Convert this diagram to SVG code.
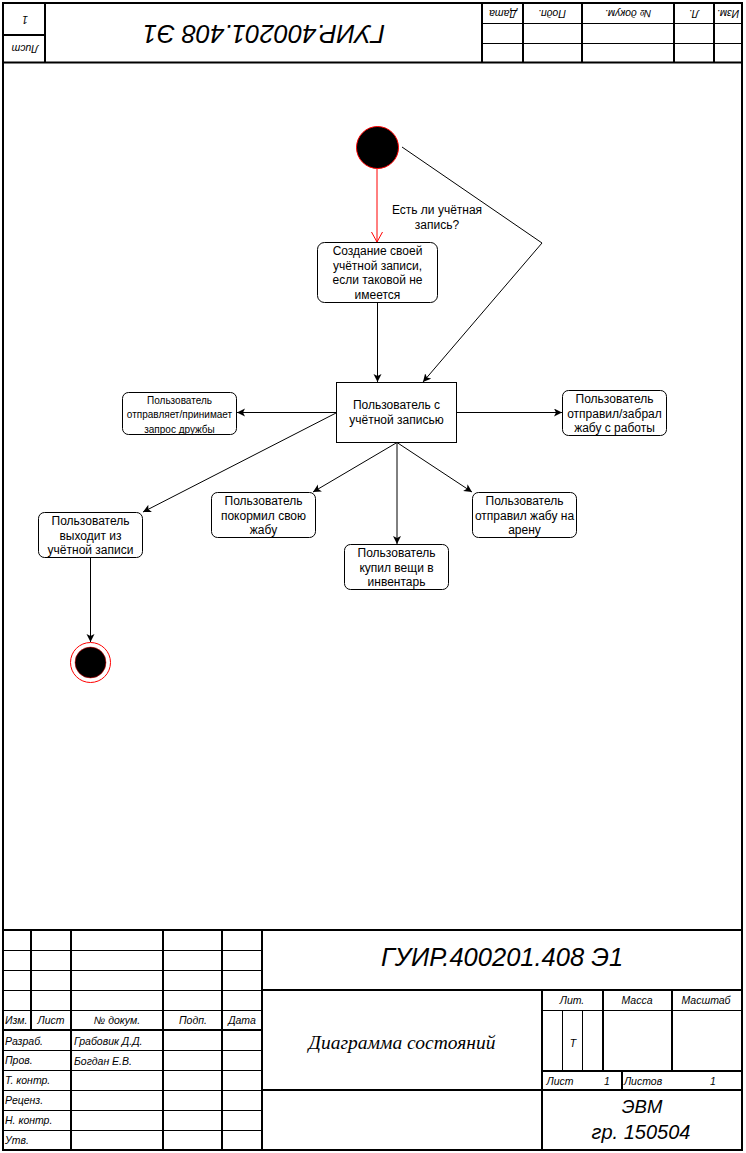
<svg xmlns="http://www.w3.org/2000/svg" width="746" height="1153" viewBox="0 0 746 1153">
<defs>
<style>
.thick{stroke:#000;stroke-width:2;fill:none}
.thin{stroke:#000;stroke-width:1;fill:none}
.lbl{font-family:"Liberation Sans",Arial,sans-serif;font-style:italic;font-size:10.5px;fill:#000}
.nt{font-family:"Liberation Sans",Arial,sans-serif;font-size:12px;text-anchor:middle;fill:#000}
.ns{font-family:"Liberation Sans",Arial,sans-serif;font-size:10px;text-anchor:middle;fill:#000}
.box{fill:#fff;stroke:#000;stroke-width:1}
.edge{stroke:#000;stroke-width:1;fill:none;marker-end:url(#arr)}
.mid{text-anchor:middle}
.big{font-size:25.5px}
</style>
<marker id="arr" markerUnits="userSpaceOnUse" markerWidth="10" markerHeight="10" refX="8" refY="4" orient="auto">
<path d="M0,0 L8,4 L0,8 L2,4 z" fill="#000"/>
</marker>
<marker id="openred" markerUnits="userSpaceOnUse" markerWidth="12" markerHeight="12" refX="10" refY="5.5" orient="auto">
<path d="M0,0 L10,5.5 L0,11" fill="none" stroke="#ff0000" stroke-width="1"/>
</marker>
</defs>
<rect width="746" height="1153" fill="#fff"/>

<g id="frame">
<rect x="3" y="3" width="739" height="1147" class="thick"/>
<line x1="3" y1="62.5" x2="742" y2="62.5" class="thick"/>
<line x1="45" y1="3" x2="45" y2="62.5" class="thick"/>
<line x1="3" y1="35" x2="45" y2="35" class="thick"/>
<line x1="482" y1="3" x2="482" y2="62.5" class="thick"/>
<line x1="523" y1="3" x2="523" y2="62.5" class="thick"/>
<line x1="582" y1="3" x2="582" y2="62.5" class="thick"/>
<line x1="674" y1="3" x2="674" y2="62.5" class="thick"/>
<line x1="714" y1="3" x2="714" y2="62.5" class="thick"/>
<line x1="482" y1="23.5" x2="742" y2="23.5" class="thin"/>
<line x1="482" y1="43.5" x2="742" y2="43.5" class="thin"/>
<text class="lbl mid" transform="translate(25,20) rotate(180)" y="4">1</text>
<text class="lbl mid" transform="translate(25,49) rotate(180)" y="4">Лист</text>
<text class="lbl mid big" transform="translate(264,33.5) rotate(180)" y="9">ГУИР.400201.408 Э1</text>
<text class="lbl mid" transform="translate(503,13) rotate(180)" y="3.5">Дата</text>
<text class="lbl mid" transform="translate(552,13) rotate(180)" y="3.5">Подп.</text>
<text class="lbl mid" transform="translate(628,13) rotate(180)" y="3.5">№ докум.</text>
<text class="lbl mid" transform="translate(694,13) rotate(180)" y="3.5">Л.</text>
<text class="lbl mid" transform="translate(728,13) rotate(180)" y="3.5">Изм.</text>

<line x1="3" y1="930" x2="742" y2="930" class="thick"/>
<line x1="31" y1="930" x2="31" y2="1030" class="thick"/>
<line x1="71" y1="930" x2="71" y2="1150" class="thick"/>
<line x1="163" y1="930" x2="163" y2="1150" class="thick"/>
<line x1="222" y1="930" x2="222" y2="1150" class="thick"/>
<line x1="262" y1="930" x2="262" y2="1150" class="thick"/>
<line x1="3" y1="950.5" x2="262" y2="950.5" class="thin"/>
<line x1="3" y1="970.5" x2="262" y2="970.5" class="thin"/>
<line x1="3" y1="990.5" x2="262" y2="990.5" class="thin"/>
<line x1="3" y1="1010.5" x2="262" y2="1010.5" class="thin"/>
<line x1="3" y1="1030" x2="262" y2="1030" class="thick"/>
<line x1="3" y1="1050.5" x2="262" y2="1050.5" class="thin"/>
<line x1="3" y1="1070.5" x2="262" y2="1070.5" class="thin"/>
<line x1="3" y1="1090.5" x2="262" y2="1090.5" class="thin"/>
<line x1="3" y1="1110.5" x2="262" y2="1110.5" class="thin"/>
<line x1="3" y1="1130.5" x2="262" y2="1130.5" class="thin"/>

<line x1="262" y1="990" x2="742" y2="990" class="thick"/>
<line x1="262" y1="1090" x2="742" y2="1090" class="thick"/>
<line x1="542" y1="990" x2="542" y2="1150" class="thick"/>
<line x1="542" y1="1010.5" x2="742" y2="1010.5" class="thin"/>
<line x1="542" y1="1071" x2="742" y2="1071" class="thick"/>
<line x1="603" y1="990" x2="603" y2="1071" class="thick"/>
<line x1="672" y1="990" x2="672" y2="1071" class="thick"/>
<line x1="562.5" y1="1010" x2="562.5" y2="1071" class="thin"/>
<line x1="582.5" y1="1010" x2="582.5" y2="1071" class="thin"/>
<line x1="622" y1="1071" x2="622" y2="1090" class="thick"/>

<text class="lbl" x="5" y="1024">Изм.</text>
<text class="lbl mid" x="51" y="1024">Лист</text>
<text class="lbl mid" x="117" y="1024">№ докум.</text>
<text class="lbl mid" x="193" y="1024">Подп.</text>
<text class="lbl mid" x="242" y="1024">Дата</text>
<text class="lbl" x="5" y="1045">Разраб.</text>
<text class="lbl" x="5" y="1064">Пров.</text>
<text class="lbl" x="5" y="1084">Т. контр.</text>
<text class="lbl" x="5" y="1104">Реценз.</text>
<text class="lbl" x="5" y="1124">Н. контр.</text>
<text class="lbl" x="5" y="1144">Утв.</text>
<text class="lbl" x="74" y="1045">Грабовик Д.Д.</text>
<text class="lbl" x="74" y="1065">Богдан Е.В.</text>

<text class="lbl mid big" x="502" y="966">ГУИР.400201.408 Э1</text>
<text class="mid" style="font-family:'Liberation Serif','Times New Roman',serif;font-style:italic;font-size:19.5px" x="402" y="1049">Диаграмма состояний</text>
<text class="lbl mid" x="572" y="1004">Лит.</text>
<text class="lbl mid" x="637" y="1004">Масса</text>
<text class="lbl mid" x="706" y="1004">Масштаб</text>
<text class="lbl mid" x="573" y="1047">Т</text>
<text class="lbl mid" x="560" y="1085">Лист</text>
<text class="lbl mid" x="607" y="1085">1</text>
<text class="lbl mid" x="643" y="1085">Листов</text>
<text class="lbl mid" x="713" y="1085">1</text>
<text class="lbl mid" style="font-size:18.5px" x="642" y="1113">ЭВМ</text>
<text class="lbl mid" style="font-size:20px" x="641" y="1139">гр. 150504</text>
</g>

<g id="connectors">
<line x1="377" y1="169" x2="377" y2="242" stroke="#ff0000" stroke-width="1" marker-end="url(#openred)"/>
<line x1="377.5" y1="302.5" x2="377.5" y2="382" class="edge"/>
<polyline points="402,147 542,243 423,382" class="edge"/>
<line x1="336.5" y1="412.5" x2="237" y2="412.5" class="edge"/>
<line x1="456.5" y1="412.5" x2="562" y2="412.5" class="edge"/>
<line x1="336" y1="413" x2="143" y2="512" class="edge"/>
<line x1="397" y1="442.5" x2="313" y2="492" class="edge"/>
<line x1="397" y1="442.5" x2="397" y2="544" class="edge"/>
<line x1="397" y1="442.5" x2="472" y2="492" class="edge"/>
<line x1="90.5" y1="557.5" x2="90.5" y2="642" class="edge"/>
<text class="nt" x="437" y="214">Есть ли учётная</text>
<text class="nt" x="437" y="229">запись?</text>
</g>

<g id="start">
<circle cx="377.5" cy="147.5" r="21" fill="#000" stroke="#ff0000" stroke-width="1"/>
</g>

<g id="node-create">
<rect x="317.5" y="242.5" width="120" height="60" rx="7" class="box"/>
<text class="nt" x="377.5" y="255">Создание своей</text>
<text class="nt" x="377.5" y="269.5">учётной записи,</text>
<text class="nt" x="377.5" y="284">если таковой не</text>
<text class="nt" x="377.5" y="298.5">имеется</text>
</g>

<g id="node-main">
<rect x="336.5" y="382.5" width="120" height="60" class="box"/>
<text class="nt" x="396.5" y="409">Пользователь с</text>
<text class="nt" x="396.5" y="424">учётной записью</text>
</g>

<g id="node-friend">
<rect x="122.5" y="392.5" width="114" height="42" rx="6" class="box"/>
<text class="ns" x="179.5" y="403.5">Пользователь</text>
<text class="ns" x="179.5" y="417.5">отправляет/принимает</text>
<text class="ns" x="179.5" y="432.5">запрос дружбы</text>
</g>

<g id="node-work">
<rect x="562.5" y="390.5" width="104" height="45" rx="6" class="box"/>
<text class="nt" x="614.5" y="402.5">Пользователь</text>
<text class="nt" x="614.5" y="417.5">отправил/забрал</text>
<text class="nt" x="614.5" y="431.5">жабу с работы</text>
</g>

<g id="node-exit">
<rect x="38.5" y="512.5" width="104" height="45" rx="6" class="box"/>
<text class="nt" x="90.5" y="525">Пользователь</text>
<text class="nt" x="90.5" y="540">выходит из</text>
<text class="nt" x="90.5" y="554">учётной записи</text>
</g>

<g id="node-feed">
<rect x="211.5" y="492.5" width="104" height="45" rx="6" class="box"/>
<text class="nt" x="263.5" y="505">Пользователь</text>
<text class="nt" x="263.5" y="520">покормил свою</text>
<text class="nt" x="263.5" y="534">жабу</text>
</g>

<g id="node-buy">
<rect x="344.5" y="544.5" width="104" height="45" rx="6" class="box"/>
<text class="nt" x="396.5" y="557">Пользователь</text>
<text class="nt" x="396.5" y="571.5">купил вещи в</text>
<text class="nt" x="396.5" y="586">инвентарь</text>
</g>

<g id="node-arena">
<rect x="472.5" y="492.5" width="104" height="45" rx="6" class="box"/>
<text class="nt" x="524.5" y="505">Пользователь</text>
<text class="nt" x="524.5" y="520">отправил жабу на</text>
<text class="nt" x="524.5" y="534">арену</text>
</g>

<g id="end">
<circle cx="90.5" cy="662.5" r="20" fill="#fff" stroke="#ff0000" stroke-width="1"/>
<circle cx="90.5" cy="662.5" r="15.5" fill="#000" stroke="#ff0000" stroke-width="0.5"/>
</g>
</svg>
